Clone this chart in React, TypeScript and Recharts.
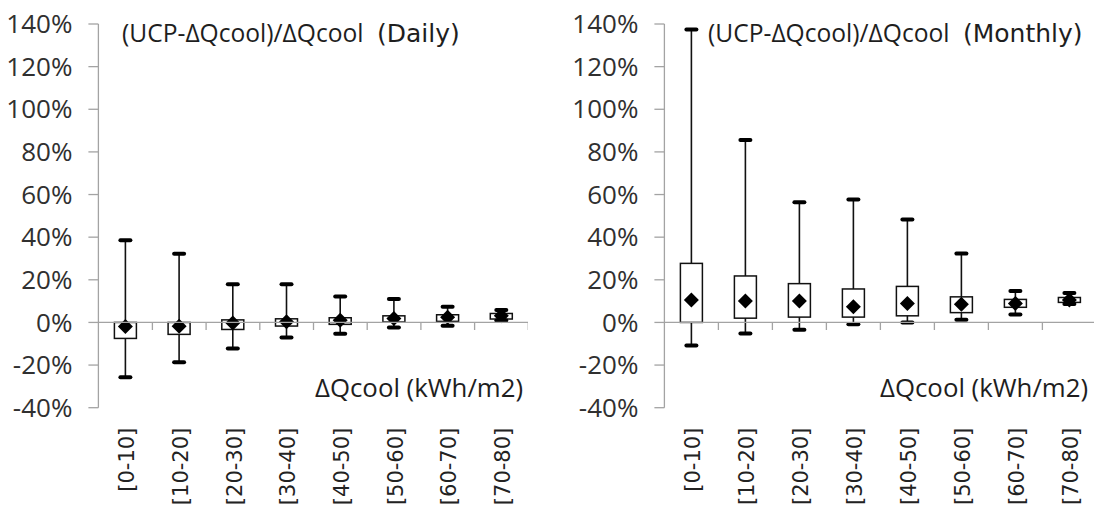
import React from "react";
import {
  Bar,
  ComposedChart,
  ReferenceLine,
  XAxis,
  YAxis,
} from "recharts";

const categories = [
  "[0-10]",
  "[10-20]",
  "[20-30]",
  "[30-40]",
  "[40-50]",
  "[50-60]",
  "[60-70]",
  "[70-80]",
];

const yTicks = [-40, -20, 0, 20, 40, 60, 80, 100, 120, 140];

// Daily: (UCP-dQcool)/dQcool, in %
const dailyMin = [-25.7, -18.7, -12.2, -7.1, -5.3, -2.4, -1.6, 0.9];
const dailyQ1 = [-7.5, -5.6, -3.3, -1.7, -0.9, 0.2, 0.5, 1.6];
const dailyMean = [-1.9, -1.8, -0.3, 0.3, 1.0, 1.8, 2.4, 3.1];
const dailyQ3 = [0, 0, 1.2, 1.7, 2.2, 3.1, 3.6, 4.2];
const dailyMax = [38.5, 32.2, 17.9, 17.9, 12.2, 11.0, 7.4, 5.8];

// Monthly
const monthlyMin = [-10.8, -5.2, -3.4, -0.9, 0, 1.2, 3.7, 8.6];
const monthlyQ1 = [0, 2.0, 2.5, 2.5, 3.1, 4.6, 7.1, 9.4];
const monthlyMean = [10.5, 10.0, 10.0, 7.4, 8.9, 8.5, 8.9, 10.5];
const monthlyQ3 = [27.7, 21.8, 18.2, 15.7, 16.9, 12.0, 10.8, 11.7];
const monthlyMax = [137.4, 85.6, 56.4, 57.7, 48.3, 32.3, 14.8, 13.8];

const AXIS_GREY = "#a3a3a3";
const TEXT = "#303030";

type Row = {
  cat: string;
  min: number;
  q1: number;
  mean: number;
  q3: number;
  max: number;
};

function buildRows(
  mins: number[],
  q1s: number[],
  means: number[],
  q3s: number[],
  maxs: number[]
): Row[] {
  return categories.map((cat, i) => ({
    cat,
    min: mins[i],
    q1: q1s[i],
    mean: means[i],
    q3: q3s[i],
    max: maxs[i],
  }));
}

// box + whiskers + mean diamond, positioned from the bar's own [q1, q3] geometry
function BoxShape(props: any) {
  const { x, y, width, height, payload } = props;
  if (payload == null) return null;
  const top = Math.min(y, y + height);
  const bot = Math.max(y, y + height);
  const k = (bot - top) / (payload.q3 - payload.q1);
  const py = (v: number) => top + (payload.q3 - v) * k;
  const cx = x + width / 2;
  const yMax = py(payload.max);
  const yMin = py(payload.min);
  const yMean = py(payload.mean);
  const y0 = py(0);
  const d = 7.5;
  return (
    <g>
      <line x1={x + width} x2={x + width} y1={y0} y2={y0 + 7.5} stroke={AXIS_GREY} strokeWidth={1.3} />
      <line x1={cx} x2={cx} y1={yMax} y2={yMin} stroke="#111" strokeWidth={1.6} />
      <rect x={cx - 11} y={top} width={22} height={bot - top} fill="#fff" stroke="#111" strokeWidth={1.5} />
      <line x1={cx - 5} x2={cx + 5} y1={yMax} y2={yMax} stroke="#000" strokeWidth={4} strokeLinecap="round" />
      <line x1={cx - 5} x2={cx + 5} y1={yMin} y2={yMin} stroke="#000" strokeWidth={4} strokeLinecap="round" />
      <polygon
        points={`${cx},${yMean - d} ${cx + d},${yMean} ${cx},${yMean + d} ${cx - d},${yMean}`}
        fill="#000"
      />
    </g>
  );
}

function CatTick(props: any) {
  const { x, y, payload } = props;
  const ax = x + 9;
  return (
    <text
      x={ax}
      y={y}
      transform={`rotate(-90 ${ax} ${y})`}
      textAnchor="end"
      fontFamily="DejaVu Sans"
      fontSize={21}
      fill="#222"
    >
      {payload.value}
    </text>
  );
}

function Panel({
  left,
  plotWidth,
  rows,
}: {
  left: number;
  plotWidth: number;
  rows: Row[];
}) {
  const yAxisWidth = 98.4;
  return (
    <div style={{ position: "absolute", left, top: 0 }}>
      <ComposedChart
        width={yAxisWidth + plotWidth}
        height={506}
        data={rows}
        margin={{ top: 24, right: 0, bottom: 0, left: 0 }}
        barCategoryGap={0}
        barGap={0}
      >
        <XAxis
          dataKey="cat"
          height={98.3}
          axisLine={false}
          tickLine={false}
          tickSize={0}
          tickMargin={20}
          interval={0}
          tick={<CatTick />}
        />
        <YAxis
          type="number"
          width={yAxisWidth}
          domain={[-40, 140]}
          ticks={yTicks}
          allowDataOverflow
          tickFormatter={(v: number) => `${v}%`}
          tickSize={10}
          tickMargin={16}
          tick={{ fontSize: 26, fill: TEXT, fontFamily: "Open Sans" }}
          axisLine={{ stroke: AXIS_GREY, strokeWidth: 1.3 }}
          tickLine={{ stroke: AXIS_GREY, strokeWidth: 1.3 }}
        />
        <ReferenceLine y={0} stroke={AXIS_GREY} strokeWidth={1.3} />
        <Bar
          dataKey={(r: Row) => [r.q1, r.q3]}
          isAnimationActive={false}
          shape={(p: any) => <BoxShape {...p} />}
        />
      </ComposedChart>
    </div>
  );
}

export default function App() {
  const daily = buildRows(dailyMin, dailyQ1, dailyMean, dailyQ3, dailyMax);
  const monthly = buildRows(monthlyMin, monthlyQ1, monthlyMean, monthlyQ3, monthlyMax);
  return (
    <div
      style={{
        position: "absolute",
        left: 0,
        top: 0,
        width: 1094,
        height: 506,
        overflow: "hidden",
        background: "#fff",
        fontFamily: "Open Sans",
      }}
    >
      <Panel left={0} plotWidth={429.6} rows={daily} />
      <Panel left={566} plotWidth={432} rows={monthly} />
      <svg
        width={1094}
        height={506}
        style={{ position: "absolute", left: 0, top: 0, pointerEvents: "none" }}
      >
        <text x={122} y={42} fontFamily="Open Sans" fontSize={24.6} fill="#1e1e1e">
          (UCP-ΔQcool)/ΔQcool
        </text>
        <text x={377} y={42} fontFamily="DejaVu Sans" fontSize={25} fill="#1e1e1e">
          (Daily)
        </text>
        <text x={315} y={397} fontFamily="Open Sans" fontSize={25.8} fill="#1e1e1e">
          ΔQcool (kWh/m2)
        </text>
        <text x={708} y={42} fontFamily="Open Sans" fontSize={24.6} fill="#1e1e1e">
          (UCP-ΔQcool)/ΔQcool
        </text>
        <text x={963} y={42} fontFamily="DejaVu Sans" fontSize={25} fill="#1e1e1e">
          (Monthly)
        </text>
        <text x={880} y={397} fontFamily="Open Sans" fontSize={25.8} fill="#1e1e1e">
          ΔQcool (kWh/m2)
        </text>
      </svg>
    </div>
  );
}
